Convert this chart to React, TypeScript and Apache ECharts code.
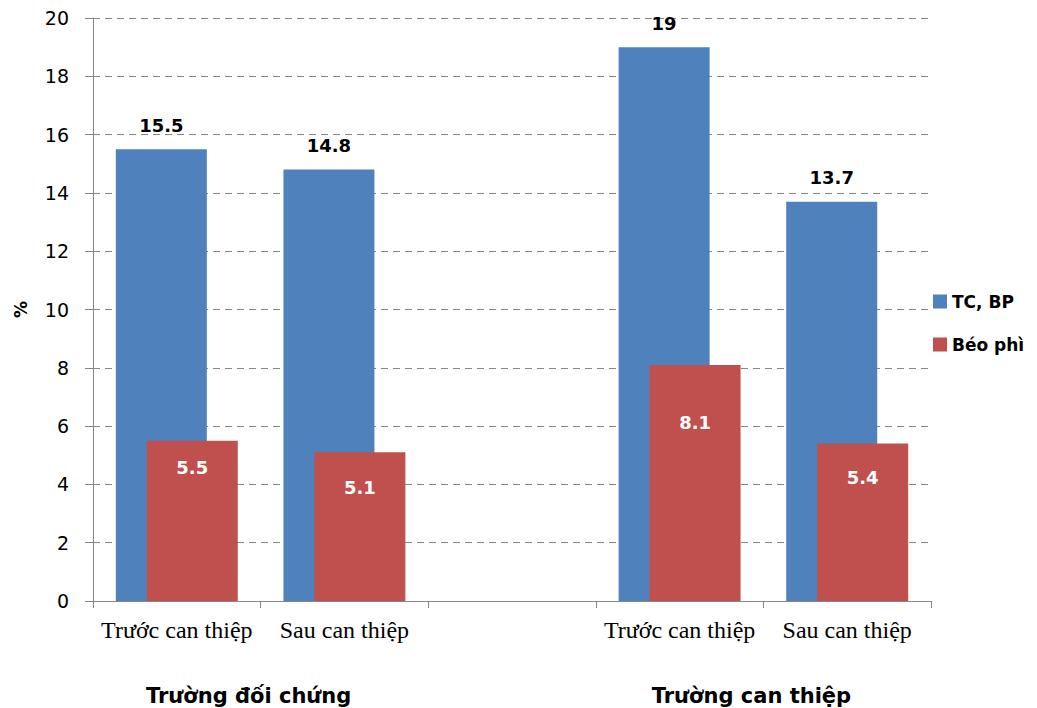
import React, { useEffect, useRef } from "react";
import * as echarts from "echarts";

// Categories: two schools, before/after intervention, with an empty spacer slot
const categories = ["Trước can thiệp", "Sau can thiệp", "", "Trước can thiệp", "Sau can thiệp"];
const groupNames = ["Trường đối chứng", "Trường can thiệp"];
// Which category pairs each group label sits under
const groupSpans = [[0, 1], [3, 4]];

const seriesNames = ["TC, BP", "Béo phì"];
const overweightValues = [15.5, 14.8, null, 19, 13.7];
const obeseValues = [5.5, 5.1, null, 8.1, 5.4];

const yTicks = { min: 0, max: 20, interval: 2 };

// Inside-top label spacing for the red bars
const obeseLabelGap = [18, 26, 0, 49, 25];

const BLUE = "#4F81BD";
const RED = "#C0504D";
const AXIS_GRAY = "#868686";

export default function App() {
  const ref = useRef<HTMLDivElement>(null);

  useEffect(() => {
    document.body.style.margin = "0";
    const el = ref.current!;
    const chart = echarts.init(el, null, { renderer: "svg" });

    const option: any = {
      animation: false,
      backgroundColor: "#ffffff",
      grid: { left: 93, right: 106, top: 18, bottom: 107, containLabel: false },
      legend: {
        orient: "vertical",
        left: 933,
        top: 293,
        padding: 0,
        itemWidth: 14,
        itemHeight: 14,
        itemGap: 26,
        icon: "rect",
        data: seriesNames,
        textStyle: {
          fontFamily: "DejaVu Sans",
          fontWeight: "bold",
          fontSize: 17,
          color: "#000",
        },
      },
      xAxis: {
        type: "category",
        data: categories,
        boundaryGap: true,
        axisLine: { show: true, lineStyle: { color: AXIS_GRAY, width: 1 } },
        axisTick: { show: true, length: 7, lineStyle: { color: AXIS_GRAY } },
        axisLabel: {
          interval: 0,
          margin: 17,
          fontFamily: "Liberation Serif",
          fontSize: 24,
          color: "#000",
        },
        splitLine: { show: false },
      },
      yAxis: {
        type: "value",
        min: yTicks.min,
        max: yTicks.max,
        interval: yTicks.interval,
        name: "%",
        nameLocation: "middle",
        nameRotate: 90,
        nameGap: 64,
        nameTextStyle: {
          fontFamily: "DejaVu Sans",
          fontWeight: "bold",
          fontSize: 17,
          color: "#000",
        },
        axisLine: { show: true, lineStyle: { color: AXIS_GRAY, width: 1 } },
        axisTick: { show: true, length: 8, lineStyle: { color: AXIS_GRAY } },
        axisLabel: {
          margin: 24,
          fontFamily: "DejaVu Sans",
          fontSize: 19,
          color: "#000",
        },
        splitLine: {
          show: true,
          lineStyle: { color: AXIS_GRAY, type: [7, 5], width: 1 },
        },
      },
      series: [
        {
          name: seriesNames[0],
          type: "bar",
          data: overweightValues,
          barWidth: 91,
          barGap: "-66%",
          itemStyle: { color: BLUE },
          label: {
            show: true,
            position: "top",
            distance: 15,
            fontFamily: "DejaVu Sans",
            fontWeight: "bold",
            fontSize: 18,
            color: "#000",
          },
        },
        {
          name: seriesNames[1],
          type: "bar",
          data: obeseValues.map((v, i) => ({
            value: v,
            label: { distance: obeseLabelGap[i] },
          })),
          barWidth: 91,
          barGap: "-66%",
          itemStyle: { color: RED },
          label: {
            show: true,
            position: "insideTop",
            fontFamily: "DejaVu Sans",
            fontWeight: "bold",
            fontSize: 18,
            color: "#fff",
          },
        },
      ],
    };

    chart.setOption(option);

    // Group captions centred under each pair of categories
    const graphics = groupSpans.map((span, gi) => {
      const a = chart.convertToPixel({ xAxisIndex: 0 }, span[0]) as number;
      const b = chart.convertToPixel({ xAxisIndex: 0 }, span[1]) as number;
      return {
        type: "text",
        x: (a + b) / 2 - 12,
        y: 696,
        style: {
          text: groupNames[gi],
          align: "center",
          verticalAlign: "middle",
          fontFamily: "DejaVu Sans",
          fontWeight: "bold",
          fontSize: 21,
          fill: "#000",
        },
      };
    });
    chart.setOption({ graphic: graphics });

    return () => chart.dispose();
  }, []);

  return <div ref={ref} style={{ width: 1037, height: 708 }} />;
}
